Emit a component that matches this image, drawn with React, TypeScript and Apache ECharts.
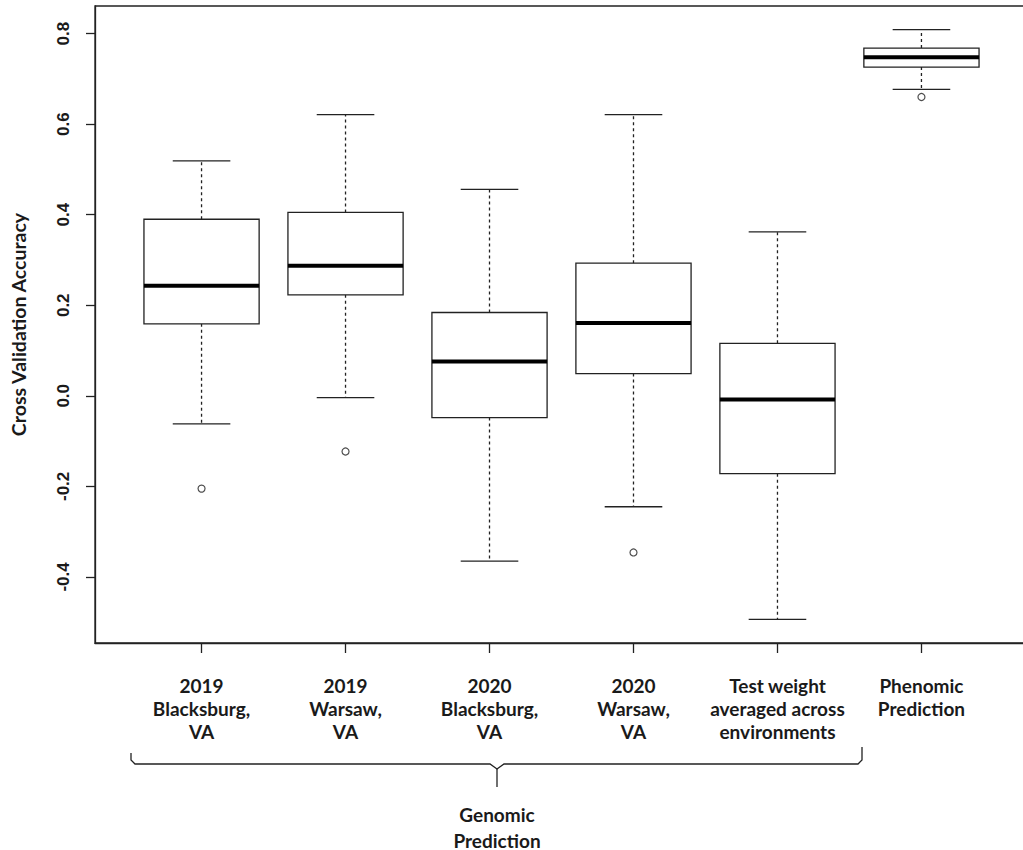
import React, { useEffect, useRef } from "react";
import * as echarts from "echarts";

const categories = [
  "2019\nBlacksburg,\nVA",
  "2019\nWarsaw,\nVA",
  "2020\nBlacksburg,\nVA",
  "2020\nWarsaw,\nVA",
  "Test weight\naveraged across\nenvironments",
  "Phenomic\nPrediction",
];
const lowWhisker = [-0.062, -0.004, -0.365, -0.245, -0.494, 0.677];
const q1 = [0.159, 0.223, -0.048, 0.049, -0.172, 0.726];
const median = [0.243, 0.287, 0.076, 0.161, -0.008, 0.748];
const q3 = [0.39, 0.405, 0.184, 0.293, 0.116, 0.768];
const highWhisker = [0.519, 0.621, 0.456, 0.621, 0.362, 0.809];
const outliers: [number, number][] = [
  [1, -0.205],
  [2, -0.123],
  [4, -0.346],
  [6, 0.66],
];
const yTicks = [-0.4, -0.2, 0.0, 0.2, 0.4, 0.6, 0.8];
const xTicks = [1, 2, 3, 4, 5, 6];

const LINE = "#222";
const FONT = "Lato, 'Open Sans', sans-serif";

export default function App() {
  const ref = useRef<HTMLDivElement>(null);
  useEffect(() => {
    if (!ref.current) return;
    const chart = echarts.init(ref.current, undefined, { renderer: "svg" });
    const boxData = categories.map((_, i) => [
      i + 1,
      lowWhisker[i],
      q1[i],
      median[i],
      q3[i],
      highWhisker[i],
    ]);
    const option: any = {
      animation: false,
      backgroundColor: "#fff",
      grid: {
        left: 95,
        top: 6,
        width: 933,
        height: 637,
        outerBoundsMode: "none",
        containLabel: false,
        show: true,
        borderColor: LINE,
        borderWidth: 1.3,
        backgroundColor: "transparent",
      },
      xAxis: {
        type: "value",
        min: 0.26,
        max: 6.74,
        splitLine: { show: false },
        axisLine: {
          show: true,
          onZero: false,
          lineStyle: { color: LINE, width: 1.3 },
        },
        axisTick: {
          show: true,
          length: 10,
          customValues: xTicks,
          lineStyle: { color: LINE, width: 1.3 },
        },
        axisLabel: {
          customValues: xTicks,
          formatter: (v: number) => categories[Math.round(v) - 1] ?? "",
          margin: 31,
          fontFamily: FONT,
          fontWeight: "bold",
          fontSize: 19,
          lineHeight: 23,
          color: "#1a1a1a",
          verticalAlign: "top",
        },
      },
      yAxis: {
        type: "value",
        min: -0.546,
        max: 0.861,
        name: "Cross Validation Accuracy",
        nameLocation: "middle",
        nameRotate: 90,
        nameGap: 67,
        nameTextStyle: {
          fontFamily: FONT,
          fontWeight: "bold",
          fontSize: 19.5,
          color: "#1a1a1a",
        },
        splitLine: { show: false },
        axisLine: {
          show: true,
          onZero: false,
          lineStyle: { color: LINE, width: 1.3 },
        },
        axisTick: {
          show: true,
          length: 9,
          customValues: yTicks,
          lineStyle: { color: LINE, width: 1.3 },
        },
        axisLabel: {
          customValues: yTicks,
          formatter: (v: number) => v.toFixed(1),
          rotate: 90,
          margin: 23,
          fontFamily: "'Liberation Sans', Arial, sans-serif",
          fontWeight: "bold",
          fontSize: 17,
          color: "#1a1a1a",
        },
      },
      series: [
        {
          type: "custom",
          data: boxData,
          encode: { x: 0, y: [1, 2, 3, 4, 5] },
          renderItem: (params: any, api: any) => {
            const x = api.value(0);
            const lo = api.value(1);
            const a = api.value(2);
            const m = api.value(3);
            const b = api.value(4);
            const hi = api.value(5);
            const p = (xv: number, yv: number) => api.coord([xv, yv]);
            const bw = 0.4;
            const sw = 0.2;
            const pTL = p(x - bw, b);
            const pBR = p(x + bw, a);
            const solid = { stroke: LINE, lineWidth: 1.3, fill: "none" };
            const dashed = { stroke: LINE, lineWidth: 1.3, lineDash: [3, 3] };
            const seg = (p1: number[], p2: number[], style: any) => ({
              type: "line",
              shape: { x1: p1[0], y1: p1[1], x2: p2[0], y2: p2[1] },
              style,
            });
            return {
              type: "group",
              children: [
                seg(p(x, b), p(x, hi), dashed),
                seg(p(x, a), p(x, lo), dashed),
                seg(p(x - sw, hi), p(x + sw, hi), solid),
                seg(p(x - sw, lo), p(x + sw, lo), solid),
                {
                  type: "rect",
                  shape: {
                    x: pTL[0],
                    y: pTL[1],
                    width: pBR[0] - pTL[0],
                    height: pBR[1] - pTL[1],
                  },
                  style: { stroke: LINE, lineWidth: 1.3, fill: "#fff" },
                },
                seg(p(x - bw, m), p(x + bw, m), {
                  stroke: "#000",
                  lineWidth: 4,
                }),
              ],
            };
          },
        },
        {
          type: "scatter",
          data: outliers,
          symbol: "circle",
          symbolSize: 7,
          itemStyle: { color: "#fff", borderColor: LINE, borderWidth: 1.2 },
        },
      ],
      graphic: [
        {
          type: "polyline",
          shape: {
            points: [
              [131, 753],
              [131, 760],
              [135, 764],
              [490, 764],
              [497, 769],
              [504, 764],
              [858, 764],
              [862, 760],
              [862, 747],
            ],
          },
          style: { stroke: LINE, lineWidth: 1.3, fill: "none" },
        },
        {
          type: "line",
          shape: { x1: 497, y1: 769, x2: 497, y2: 787 },
          style: { stroke: LINE, lineWidth: 1.3 },
        },
        {
          type: "text",
          x: 497,
          y: 801,
          style: {
            text: "Genomic\nPrediction",
            textAlign: "center",
            textVerticalAlign: "top",
            font: `bold 19px ${FONT}`,
            lineHeight: 26,
            fill: "#1a1a1a",
          },
        },
      ],
    };
    chart.setOption(option);
    return () => chart.dispose();
  }, []);
  return (
    <div
      ref={ref}
      style={{ position: "fixed", left: 0, top: 0, width: 1023, height: 850 }}
    />
  );
}
